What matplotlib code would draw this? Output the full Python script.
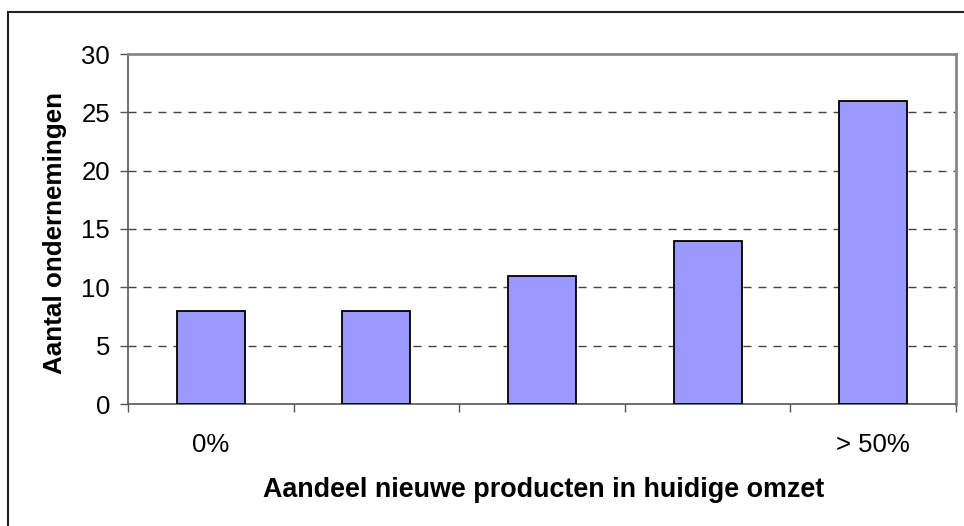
import matplotlib
matplotlib.use("Agg")
import matplotlib.pyplot as plt
from matplotlib.patches import Rectangle
import numpy as np

categories = ["0%", "", "", "", "> 50%"]
values = [8, 8, 11, 14, 26]
yticks = [0, 5, 10, 15, 20, 25, 30]

plt.rcParams['font.family'] = ['Liberation Sans', 'DejaVu Sans']

W, H = 964, 526
fig = plt.figure(figsize=(W / 100, H / 100), dpi=100)
ax = fig.add_axes([128 / W, 1 - 404 / H, (956 - 128) / W, (404 - 54) / H])

x = np.arange(len(categories))
ax.bar(x, values, width=0.41, color="#9999FF", edgecolor="black", linewidth=1.3, zorder=3)

ax.set_xlim(-0.5, len(categories) - 0.5)
ax.set_ylim(0, 30)
ax.set_yticks(yticks)
ax.set_yticklabels([str(t) for t in yticks], fontsize=18.5)
for t in yticks[1:-1]:
    ax.axhline(t, color="#444444", linewidth=1.0, linestyle=(0, (5.8, 5.0)), zorder=1)

ax.set_xticks(x, labels=categories, fontsize=18.5)
ax.tick_params(axis="x", length=0, pad=21)
ax.set_xticks(np.arange(-0.5, len(categories)), minor=True)
ax.tick_params(axis="x", which="minor", length=6, width=1, color="#555555", direction="out")
ax.tick_params(axis="y", length=6, width=1, color="#555555", direction="out", pad=7)

for s in ["left", "bottom"]:
    ax.spines[s].set_color("#555555")
    ax.spines[s].set_linewidth(1.2)
for s in ["top", "right"]:
    ax.spines[s].set_color("#888888")
    ax.spines[s].set_linewidth(2)

ax.set_ylabel("Aantal ondernemingen", fontsize=18.7, fontweight="bold", va="center")
ax.yaxis.set_label_coords(55 / W, 1 - 233 / H, transform=fig.transFigure)
ax.set_xlabel("Aandeel nieuwe producten in huidige omzet", fontsize=19.4, fontweight="bold", va="center")
ax.xaxis.set_label_coords(544 / W, 1 - 490 / H, transform=fig.transFigure)

fig.patches.append(Rectangle((8 / W, -0.1), 1.2, 1 - 12 / H + 0.1, transform=fig.transFigure,
                             fill=False, edgecolor="#222222", linewidth=1.5))

fig.savefig("out.png", dpi=100)
